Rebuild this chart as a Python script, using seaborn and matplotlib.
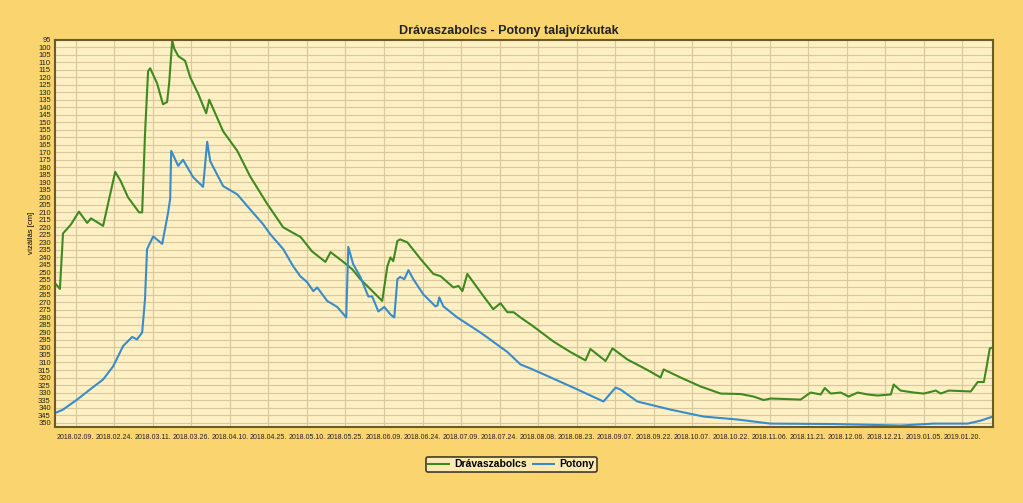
import matplotlib
matplotlib.use("Agg")
import matplotlib.pyplot as plt
import matplotlib.dates as mdates
import seaborn as sns
import numpy as np
import pandas as pd

# napok 2018.02.01-tol, vizallas [cm]
start = pd.Timestamp("2018-02-01")

drava_days = [0.4, 1.9, 3.1, 4.7, 6.2, 9.3, 12.5, 14, 18.7, 23.4, 25.5, 28.4, 32.7, 33.9,
              35, 36.2, 37, 39.7, 42, 43.6, 44.4, 45.6, 46.4, 48, 50.6, 52.6, 55.7, 58.8,
              60, 65.4, 70.9, 75.9, 82.6, 88.8, 95.6, 100, 105.2, 107.2, 111.8, 115.7,
              118.8, 123.8, 127.3, 129.3, 130.5, 131.6, 133.2, 134.3, 137.1, 142.2, 147.2,
              150, 155, 157, 158.5, 160.4, 165.5, 170.5, 173.3, 176, 178.4, 181.1, 185,
              187.7, 193.9, 200.5, 206.4, 208.3, 214.2, 216.9, 222.7, 230.5, 235.6, 236.8,
              243.4, 251.2, 259, 266.7, 271.8, 275.7, 278.4, 290.1, 294, 297.9, 299.5,
              301.8, 305.7, 308.8, 312.3, 316.2, 320.1, 325.2, 326.3, 329, 334.1, 338,
              342.7, 344.6, 347.7, 356.3, 359, 361.4, 362.5, 363.7, 364.9]
drava_vals = [258, 261, 224, 221, 218, 209.5, 217, 214, 219, 183, 189, 200, 210, 210,
              158, 116, 114, 124, 138, 136.5, 124, 95.5, 101, 106, 109, 120, 131, 144,
              135, 156, 169, 186, 204.5, 220, 226.5, 236, 243, 236.5, 242.5, 248,
              254.5, 263, 269, 246, 240, 242.5, 229, 228, 230, 241, 251,
              252.5, 260, 259, 262.5, 251, 263, 274.5, 270.5, 276.5, 276.5, 280, 284.6,
              288, 296, 303, 308.6, 301, 309, 300.6, 308, 315, 320, 314.6,
              320, 326, 330.7, 331, 332.7, 335, 334, 334.7, 330, 331.3, 327,
              330.7, 330, 332.7, 330, 331.3, 332, 331.3, 324.7, 328.7, 330, 330.7,
              328.7, 330.7, 328.7, 329.3, 323, 323, 312.6, 300.6, 300]

potony_days = [0.4, 3.1, 8.6, 13.6, 18.7, 22.6, 26.5, 30, 31.9, 33.9, 35, 35.8, 38.2,
               41.7, 42.8, 44, 44.8, 45.2, 47.9, 49.8, 53.7, 57.6, 59.2, 60.4, 65.4,
               70.9, 75.9, 81, 83.7, 88.8, 92.7, 95.4, 98.1, 100.5, 102, 105.9, 109.8,
               113.3, 114.1, 116, 118.8, 121.9, 123.4, 125.8, 128.1, 130.5, 132, 133.2,
               134.3, 135.9, 137.5, 139.4, 143.3, 148, 148.8, 149.5, 151.1, 156.5,
               165.5, 176, 181.1, 185, 191.6, 203.3, 213.4, 218.1, 220, 226.6, 239.5,
               252.3, 265.6, 278.4, 303, 329, 341.9, 355.1, 360.2, 364.9]
potony_vals = [343.4, 341.4, 334.7, 328, 321.3, 312.6, 299, 293, 294.6, 290, 268, 234.5, 226,
               231, 221, 210, 201, 169, 179, 175, 186.5, 193, 163, 176, 192.5,
               198, 208, 218, 224.5, 234.5, 246, 252.5, 256.5, 262.5, 260, 269, 273,
               280, 233, 244.5, 253, 266, 266, 276, 273, 278, 280, 254.5,
               253, 254.5, 248.5, 254.5, 264.6, 272.6, 272, 266.6, 272.6, 280,
               290, 303, 311.3, 314, 319, 328, 336, 326.7, 328, 336, 341.4,
               346, 348, 350.7, 351, 352, 350.7, 350.7, 348.7, 346]

tick_dates = pd.date_range("2018-02-09", "2019-01-20", freq="15D")

df = pd.concat([
    pd.DataFrame({"datum": start + pd.to_timedelta(drava_days, unit="D"),
                  "vizallas": drava_vals, "kut": "Drávaszabolcs"}),
    pd.DataFrame({"datum": start + pd.to_timedelta(potony_days, unit="D"),
                  "vizallas": potony_vals, "kut": "Potony"}),
])

plt.rcParams['font.family'] = ['Liberation Sans', 'DejaVu Sans']

bg = "#fad56f"
panel = "#fdf0c4"
green = "#3f8a1f"
blue = "#3a8cc8"
fig = plt.figure(figsize=(10.23, 5.03), dpi=100, facecolor=bg)
ax = fig.add_axes([0.0538, 0.151, 0.917, 0.770])
ax.set_facecolor(panel)

sns.lineplot(data=df, x="datum", y="vizallas", hue="kut",
             palette={"Drávaszabolcs": green, "Potony": blue},
             linewidth=1.5, ax=ax, legend=False)

ax.set_xlim(pd.Timestamp("2018-02-01"), pd.Timestamp("2019-02-01"))
ax.set_ylim(353, 95)
ax.set_yticks(np.arange(95, 351, 5))
ax.set_xticks(tick_dates)
ax.xaxis.set_major_formatter(mdates.DateFormatter("%Y.%m.%d."))
ax.tick_params(axis="both", length=0, colors="#222222")
ax.tick_params(axis="x", labelsize=5.0, pad=5)
ax.tick_params(axis="y", labelsize=5.5, pad=3)
ax.grid(True, color="#d9c89c", linewidth=0.8)
ax.set_axisbelow(True)
for s in ax.spines.values():
    s.set_color("#6a5a2c")
    s.set_linewidth(1.5)
ax.set_xlabel("")
ax.set_ylabel("vízállás [cm]", fontsize=5.5, labelpad=2)

fig.text(0.497, 0.938, "Drávaszabolcs - Potony talajvízkutak", ha="center",
         va="center", fontsize=9, fontweight="bold", color="#222222")

handles = [plt.Line2D([], [], color=green, lw=1.5),
           plt.Line2D([], [], color=blue, lw=1.5)]
leg = fig.legend(handles, ["Drávaszabolcs", "Potony"], loc="center",
                 bbox_to_anchor=(0.5, 0.077), ncol=2, fontsize=7.5, frameon=True,
                 fancybox=True, handlelength=2.0, columnspacing=0.6,
                 handletextpad=0.5, borderpad=0.25)
leg.get_frame().set_facecolor(panel)
leg.get_frame().set_edgecolor("#111111")
leg.get_frame().set_linewidth(1.2)
for t in leg.get_texts():
    t.set_fontweight("bold")

fig.savefig("out.png", dpi=100, facecolor=bg)
